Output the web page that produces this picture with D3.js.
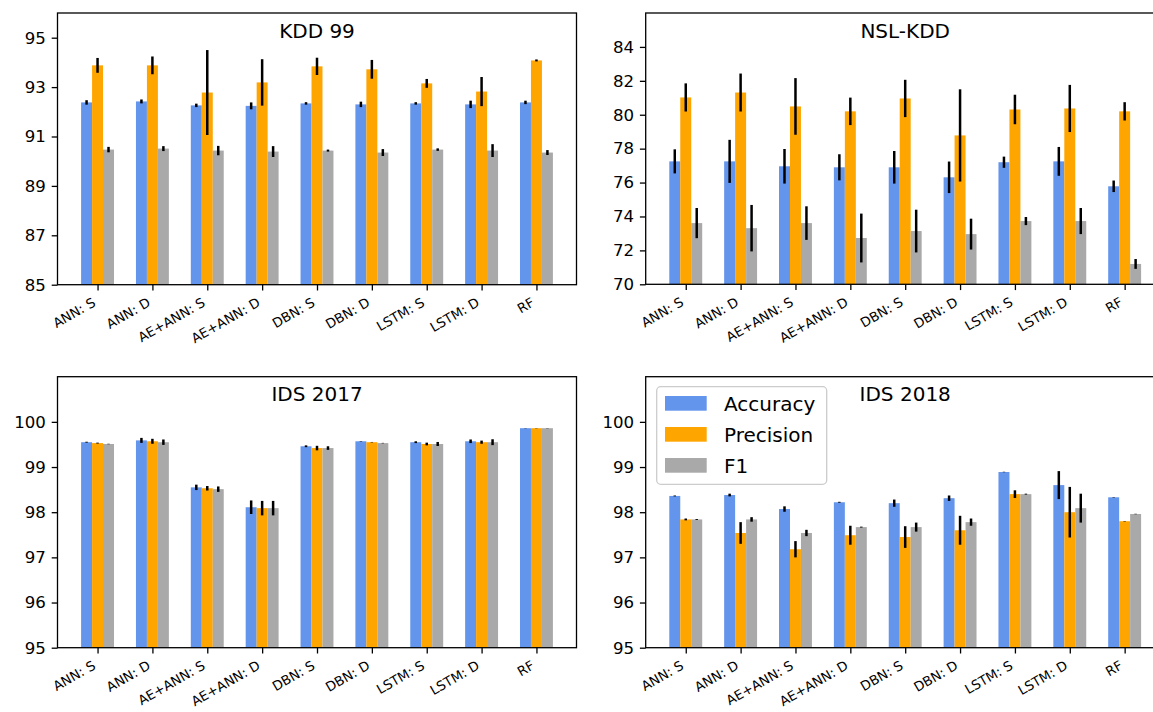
<!DOCTYPE html>
<html>
<head>
<meta charset="utf-8">
<script src="https://cdn.jsdelivr.net/npm/d3@7"></script>
<style>
body { margin: 0; background: #fff; }
text { font-family: "DejaVu Sans", sans-serif; fill: #000; }
</style>
</head>
<body>
<div id="chart"></div>
<script>
// categories and series
var categories = ["ANN: S", "ANN: D", "AE+ANN: S", "AE+ANN: D", "DBN: S", "DBN: D", "LSTM: S", "LSTM: D", "RF"];
var seriesNames = ["Accuracy", "Precision", "F1"];
var colors = ["#6495ED", "#FFA500", "#A9A9A9"];

// KDD 99
var kddAcc = [92.38, 92.42, 92.26, 92.24, 92.34, 92.30, 92.34, 92.30, 92.38];
var kddAccErr = [0.09, 0.08, 0.07, 0.14, 0.05, 0.11, 0.05, 0.15, 0.07];
var kddPrec = [93.88, 93.88, 92.78, 93.19, 93.84, 93.72, 93.15, 92.82, 94.08];
var kddPrecErr = [0.30, 0.36, 1.72, 0.94, 0.35, 0.38, 0.18, 0.59, 0.04];
var kddF1 = [90.47, 90.51, 90.43, 90.39, 90.43, 90.35, 90.47, 90.43, 90.35];
var kddF1Err = [0.11, 0.10, 0.19, 0.22, 0.04, 0.14, 0.05, 0.26, 0.10];
var kddTicks = [85, 87, 89, 91, 93, 95];

// NSL-KDD
var nslAcc = [77.25, 77.25, 76.96, 76.90, 76.90, 76.31, 77.20, 77.25, 75.78];
var nslAccErr = [0.71, 1.27, 1.02, 0.77, 0.96, 0.93, 0.33, 0.85, 0.34];
var nslPrec = [81.02, 81.31, 80.49, 80.20, 80.96, 78.78, 80.31, 80.37, 80.20];
var nslPrecErr = [0.83, 1.12, 1.67, 0.81, 1.10, 2.72, 0.87, 1.39, 0.54];
var nslF1 = [73.61, 73.31, 73.61, 72.73, 73.14, 72.96, 73.73, 73.73, 71.20];
var nslF1Err = [0.89, 1.37, 0.99, 1.44, 1.26, 0.91, 0.24, 0.77, 0.29];
var nslTicks = [70, 72, 74, 76, 78, 80, 82, 84];

// IDS 2017
var ids17Acc = [99.55, 99.59, 98.55, 98.11, 99.46, 99.57, 99.55, 99.57, 99.86];
var ids17AccErr = [0.01, 0.055, 0.06, 0.15, 0.02, 0.005, 0.02, 0.04, 0.003];
var ids17Prec = [99.53, 99.57, 98.53, 98.09, 99.42, 99.55, 99.51, 99.55, 99.86];
var ids17PrecErr = [0.01, 0.055, 0.05, 0.16, 0.05, 0.005, 0.03, 0.035, 0.003];
var ids17F1 = [99.51, 99.55, 98.51, 98.09, 99.42, 99.53, 99.51, 99.55, 99.86];
var ids17F1Err = [0.005, 0.06, 0.06, 0.16, 0.04, 0.005, 0.045, 0.065, 0.003];
var idsTicks = [95, 96, 97, 98, 99, 100];

// IDS 2018
var ids18Acc = [98.36, 98.38, 98.07, 98.22, 98.20, 98.31, 98.89, 98.60, 98.33];
var ids18AccErr = [0.01, 0.03, 0.06, 0.01, 0.08, 0.06, 0.005, 0.31, 0.005];
var ids18Prec = [97.84, 97.54, 97.18, 97.49, 97.45, 97.60, 98.40, 98.00, 97.80];
var ids18PrecErr = [0.02, 0.24, 0.18, 0.21, 0.24, 0.32, 0.085, 0.56, 0.005];
var ids18F1 = [97.84, 97.84, 97.54, 97.67, 97.67, 97.78, 98.40, 98.09, 97.96];
var ids18F1Err = [0.01, 0.05, 0.07, 0.01, 0.10, 0.08, 0.01, 0.32, 0.005];

//globals
var width = 1153;
var height = 712;
var axW = 519;
var barW = 0.2;

var panels = [
    {title: "KDD 99", left: 57.5, top: 13, h: 271.7, ymin: 85, ymax: 96, ticks: kddTicks,
     values: [kddAcc, kddPrec, kddF1], errors: [kddAccErr, kddPrecErr, kddF1Err]},
    {title: "NSL-KDD", left: 645.7, top: 13, h: 271.3, ymin: 70, ymax: 86, ticks: nslTicks,
     values: [nslAcc, nslPrec, nslF1], errors: [nslAccErr, nslPrecErr, nslF1Err]},
    {title: "IDS 2017", left: 57.5, top: 376.7, h: 271, ymin: 95, ymax: 101, ticks: idsTicks,
     values: [ids17Acc, ids17Prec, ids17F1], errors: [ids17AccErr, ids17PrecErr, ids17F1Err]},
    {title: "IDS 2018", left: 645.7, top: 376.7, h: 271, ymin: 95, ymax: 101, ticks: idsTicks,
     values: [ids18Acc, ids18Prec, ids18F1], errors: [ids18AccErr, ids18PrecErr, ids18F1Err], legend: true}
];

var svg = d3.select("#chart")
    .append("svg")
    .attr("width", width)
    .attr("height", height);

panels.forEach(function(p) {
    var g = svg.append("g")
        .attr("transform", "translate(" + p.left + "," + p.top + ")");

    var x = d3.scaleLinear().domain([-0.73, 8.73]).range([0, axW]);
    var y = d3.scaleLinear().domain([p.ymin, p.ymax]).range([p.h, 0]);

    // bars
    var rows = [];
    p.values.forEach(function(vals, s) {
        vals.forEach(function(v, i) {
            rows.push({s: s, i: i, v: v, e: p.errors[s][i]});
        });
    });

    g.selectAll(".bar")
        .data(rows)
        .enter()
        .append("rect")
        .attr("class", "bar")
        .attr("x", function(d) { return x(d.i + (d.s - 1) * barW - barW / 2); })
        .attr("width", x(barW) - x(0))
        .attr("y", function(d) { return y(d.v); })
        .attr("height", function(d) { return p.h - y(d.v); })
        .attr("fill", function(d) { return colors[d.s]; });

    // error bars
    g.selectAll(".err")
        .data(rows)
        .enter()
        .append("line")
        .attr("class", "err")
        .attr("x1", function(d) { return x(d.i + (d.s - 1) * barW); })
        .attr("x2", function(d) { return x(d.i + (d.s - 1) * barW); })
        .attr("y1", function(d) { return y(d.v - d.e); })
        .attr("y2", function(d) { return y(d.v + d.e); })
        .attr("stroke", "#000")
        .attr("stroke-width", 2.5);

    // y axis
    var yAxis = g.append("g")
        .call(d3.axisLeft(y).tickValues(p.ticks).tickSize(5.8).tickPadding(5.8).tickFormat(d3.format("d")));
    yAxis.select(".domain").remove();
    yAxis.selectAll("line").attr("stroke-width", 1.3);
    yAxis.selectAll("text")
        .style("font-size", "16.6px")
        .attr("font-family", null);

    // x axis
    var xAxis = g.append("g")
        .attr("transform", "translate(0," + p.h + ")")
        .call(d3.axisBottom(x).tickValues(d3.range(categories.length)).tickSize(5.8)
            .tickFormat(function(d) { return categories[d]; }));
    xAxis.select(".domain").remove();
    xAxis.selectAll("line").attr("stroke-width", 1.3);
    xAxis.selectAll("text")
        .style("font-size", "13.3px")
        .attr("font-family", null)
        .attr("text-anchor", "end")
        .attr("x", 0)
        .attr("y", 0)
        .attr("dy", null)
        .attr("transform", "translate(-1.6,20.5) rotate(-30)");

    // frame
    g.append("rect")
        .attr("width", axW)
        .attr("height", p.h)
        .attr("fill", "none")
        .attr("stroke", "#000")
        .attr("stroke-width", 1.3);

    // title
    g.append("text")
        .attr("x", axW / 2)
        .attr("y", 24.5)
        .attr("text-anchor", "middle")
        .style("font-size", "20px")
        .text(p.title);

    if (p.legend) {
        var lg = g.append("g").attr("transform", "translate(11,10)");
        lg.append("rect")
            .attr("width", 170)
            .attr("height", 97.6)
            .attr("rx", 4)
            .attr("fill", "#fff")
            .attr("fill-opacity", 0.8)
            .attr("stroke", "#cccccc")
            .attr("stroke-width", 1.3);
        var item = lg.selectAll(".item")
            .data(seriesNames)
            .enter()
            .append("g")
            .attr("class", "item")
            .attr("transform", function(d, i) { return "translate(8.3," + (9.3 + i * 31) + ")"; });
        item.append("rect")
            .attr("width", 41.7)
            .attr("height", 14.7)
            .attr("fill", function(d, i) { return colors[i]; });
        item.append("text")
            .attr("x", 59)
            .attr("y", 14.6)
            .style("font-size", "20px")
            .text(function(d) { return d; });
    }
});
</script>
</body>
</html>
